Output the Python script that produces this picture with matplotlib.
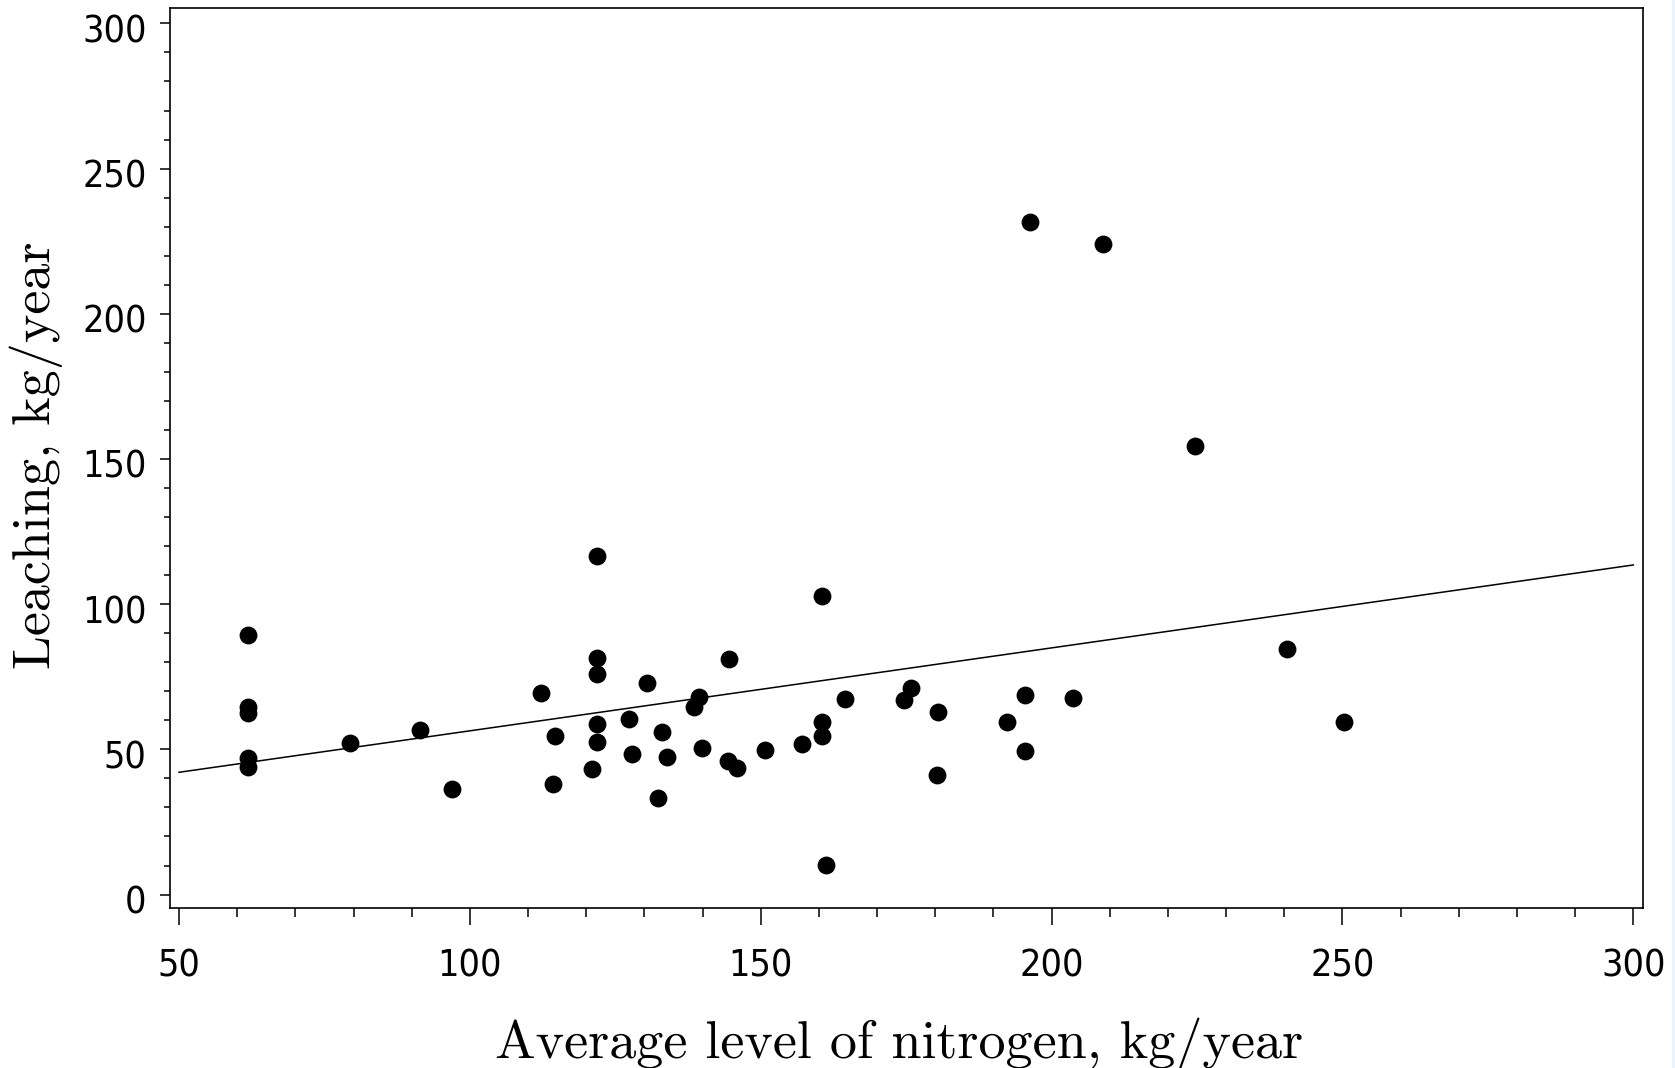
import matplotlib
matplotlib.use('Agg')
import matplotlib.pyplot as plt
import matplotlib.transforms as mtransforms
from matplotlib import font_manager
from matplotlib.patches import Rectangle
from matplotlib.ticker import MultipleLocator

# Datos
nitrogen = [61.8, 61.8, 61.8, 61.8, 61.8, 79.4, 91.4, 97.0, 112.2, 114.6,
            114.3, 121.0, 121.8, 121.8, 121.8, 121.8, 121.8, 127.3, 127.8, 130.4,
            133.1, 133.8, 132.3, 139.4, 138.5, 139.9, 144.5, 144.3, 145.9, 150.7,
            157.1, 160.6, 160.6, 160.6, 161.2, 164.5, 175.8, 174.6, 180.5, 180.3,
            196.3, 208.8, 224.6, 195.5, 192.3, 195.5, 203.7, 240.5, 250.2]
leaching = [89.4, 64.7, 62.6, 47.1, 44.0, 52.1, 56.6, 36.2, 69.3, 54.6,
            38.1, 43.1, 116.6, 81.3, 75.9, 58.9, 52.6, 60.3, 48.3, 72.9,
            55.9, 47.2, 33.1, 68.1, 64.5, 50.3, 81.0, 46.1, 43.5, 49.8,
            51.7, 102.8, 59.3, 54.6, 10.2, 67.2, 71.0, 67.0, 62.9, 41.2,
            231.5, 223.9, 154.4, 68.7, 59.5, 49.4, 67.6, 84.4, 59.5]

# Recta de regresión (extremos leídos)
fit_x = [50, 300]
fit_y = [42.1, 113.5]

x_ticks = [50, 100, 150, 200, 250, 300]
y_ticks = [0, 50, 100, 150, 200, 250, 300]

# Fuente estrecha para los números de los ejes
installed = {f.name for f in font_manager.fontManager.ttflist}
if 'Liberation Sans Narrow' in installed:
    plt.rcParams['font.family'] = ['Liberation Sans Narrow', 'DejaVu Sans']
else:
    plt.rcParams['font.family'] = ['DejaVu Sans']
    plt.rcParams['font.stretch'] = 'condensed'

fig = plt.figure(figsize=(16.75, 10.68), dpi=100)
ax = fig.add_axes([0.1015, 0.1495, 0.8792, 0.8430])

ax.scatter(nitrogen, leaching, s=165, c='black', marker='o', linewidths=0, zorder=3)
ax.plot(fit_x, fit_y, color='black', linewidth=1.1)

ax.set_xlim(48.45, 301.6)
ax.set_ylim(-4.75, 305.3)
ax.set_xticks(x_ticks)
ax.set_yticks(y_ticks)
ax.xaxis.set_minor_locator(MultipleLocator(10))
ax.yaxis.set_minor_locator(MultipleLocator(10))

for s in ax.spines.values():
    s.set_linewidth(1.2)

ax.tick_params(axis='x', which='major', length=12.2, width=1.1, pad=16.5, labelsize=27)
ax.tick_params(axis='x', which='minor', length=6.5, width=1.1)
ax.tick_params(axis='y', which='major', length=7.2, width=1.1, pad=9.7, labelsize=27)
ax.tick_params(axis='y', which='minor', length=4.3, width=1.1)

# Los números del eje y quedan un poco por debajo de su marca
offset = mtransforms.ScaledTranslation(0, -0.05, fig.dpi_scale_trans)
for lbl in ax.get_yticklabels():
    lbl.set_transform(lbl.get_transform() + offset)

ax.set_xlabel('Average level of nitrogen, kg/year', family='cmr10', fontsize=39)
ax.xaxis.set_label_coords(0.495, -0.1207)
ax.set_ylabel('Leaching, kg/year', family='cmr10', fontsize=39)
ax.yaxis.set_label_coords(-0.0727, 0.5035)

# Franja azul clara en el borde derecho
fig.patches.append(Rectangle((1672 / 1675, 0), 3 / 1675, 1, transform=fig.transFigure,
                             facecolor='#e8f4fd', edgecolor='none'))

fig.savefig('out.png', dpi=100)
